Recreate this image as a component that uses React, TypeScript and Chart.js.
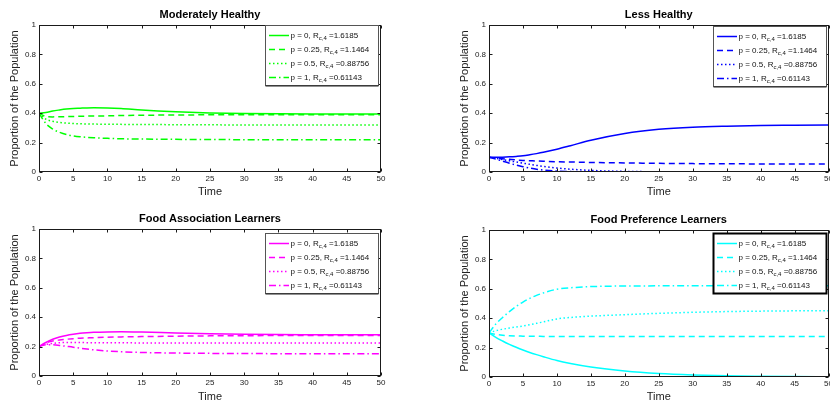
import React, { useEffect, useRef } from "react";
import { Chart, registerables } from "chart.js";
Chart.register(...registerables);

// ---- data ----
const timePoints = [0, 1, 2, 3, 4, 5, 6, 7, 8, 10, 12, 15, 20, 25, 30, 35, 40, 45, 50];
const xTickValues = [0, 5, 10, 15, 20, 25, 30, 35, 40, 45, 50];
const yTickValues = [0, 0.2, 0.4, 0.6, 0.8, 1];
const yTickLabels = ["0", "0.2", "0.4", "0.6", "0.8", "1"];
const pLabels = ["0", "0.25", "0.5", "1"];
const rLabels = ["1.6185", "1.1464", "0.88756", "0.61143"];
const panelTitles = ["Moderately Healthy", "Less Healthy", "Food Association Learners", "Food Preference Learners"];
const xAxisTitle = "Time";
const yAxisTitle = "Proportion of the Population";

// Moderately Healthy
const mhP0 = [0.40, 0.405, 0.415, 0.422, 0.428, 0.432, 0.434, 0.436, 0.437, 0.436, 0.432, 0.422, 0.41, 0.402, 0.398, 0.396, 0.395, 0.395, 0.395];
const mhP025 = [0.40, 0.378, 0.375, 0.376, 0.377, 0.378, 0.379, 0.380, 0.381, 0.382, 0.384, 0.386, 0.388, 0.389, 0.39, 0.39, 0.39, 0.39, 0.39];
const mhP05 = [0.40, 0.36, 0.345, 0.337, 0.333, 0.33, 0.328, 0.327, 0.326, 0.325, 0.324, 0.323, 0.322, 0.321, 0.32, 0.32, 0.32, 0.32, 0.32];
const mhP1 = [0.40, 0.33, 0.292, 0.27, 0.255, 0.246, 0.24, 0.236, 0.233, 0.229, 0.226, 0.224, 0.222, 0.221, 0.22, 0.22, 0.22, 0.22, 0.22];

// Less Healthy
const lhP0 = [0.10, 0.10, 0.101, 0.103, 0.106, 0.11, 0.117, 0.125, 0.134, 0.155, 0.179, 0.216, 0.262, 0.29, 0.305, 0.312, 0.316, 0.318, 0.32];
const lhP025 = [0.10, 0.095, 0.09, 0.086, 0.082, 0.079, 0.077, 0.075, 0.073, 0.07, 0.068, 0.065, 0.062, 0.059, 0.057, 0.056, 0.055, 0.055, 0.055];
const lhP05 = [0.10, 0.093, 0.085, 0.076, 0.068, 0.06, 0.052, 0.045, 0.038, 0.027, 0.019, 0.011, 0.004, 0.002, 0.001, 0, 0, 0, 0];
const lhP1 = [0.10, 0.088, 0.074, 0.06, 0.047, 0.036, 0.027, 0.019, 0.013, 0.006, 0.003, 0.001, 0, 0, 0, 0, 0, 0, 0];

// Food Association Learners
const faP0 = [0.20, 0.228, 0.25, 0.265, 0.276, 0.284, 0.29, 0.294, 0.297, 0.30, 0.301, 0.299, 0.293, 0.288, 0.284, 0.282, 0.281, 0.28, 0.28];
const faP025 = [0.20, 0.225, 0.238, 0.245, 0.25, 0.254, 0.257, 0.259, 0.261, 0.264, 0.266, 0.268, 0.271, 0.273, 0.274, 0.275, 0.275, 0.275, 0.275];
const faP05 = [0.20, 0.215, 0.222, 0.226, 0.228, 0.228, 0.228, 0.227, 0.227, 0.226, 0.226, 0.225, 0.225, 0.225, 0.225, 0.225, 0.225, 0.225, 0.225];
const faP1 = [0.20, 0.212, 0.212, 0.208, 0.202, 0.196, 0.189, 0.183, 0.178, 0.17, 0.165, 0.16, 0.156, 0.154, 0.153, 0.152, 0.152, 0.152, 0.152];

// Food Preference Learners
const fpP0 = [0.30, 0.27, 0.245, 0.222, 0.202, 0.184, 0.167, 0.152, 0.138, 0.112, 0.092, 0.068, 0.041, 0.024, 0.014, 0.008, 0.005, 0.003, 0.002];
const fpP025 = [0.30, 0.29, 0.284, 0.281, 0.279, 0.278, 0.277, 0.277, 0.276, 0.276, 0.276, 0.275, 0.275, 0.275, 0.275, 0.275, 0.275, 0.275, 0.275];
const fpP05 = [0.30, 0.315, 0.325, 0.333, 0.34, 0.347, 0.356, 0.365, 0.375, 0.395, 0.405, 0.414, 0.424, 0.433, 0.44, 0.445, 0.448, 0.45, 0.451];
const fpP1 = [0.30, 0.36, 0.405, 0.445, 0.48, 0.51, 0.535, 0.555, 0.572, 0.597, 0.607, 0.615, 0.619, 0.62, 0.621, 0.621, 0.621, 0.621, 0.621];

const dashPatterns: number[][] = [[], [6, 4], [1.5, 2.5], [7, 3, 1.5, 3]];
const FONT = "'Liberation Sans', Arial, Helvetica, sans-serif";

type Panel = {
  title: string;
  color: string;
  series: number[][];
  left: number;
  top: number;
  width: number;
  height: number;
  padding: { top: number; right: number; bottom: number; left: number };
  xAxisHeight: number;
  legendTopOffset: number;
  legendBold: boolean;
};

const panels: Panel[] = [
  { title: panelTitles[0], color: "#00FF00", series: [mhP0, mhP025, mhP05, mhP1], left: 0, top: 0, width: 415, height: 200,
    padding: { top: 25, right: 34, bottom: 0, left: 8 }, xAxisHeight: 28, legendTopOffset: 0, legendBold: false },
  { title: panelTitles[1], color: "#0000FF", series: [lhP0, lhP025, lhP05, lhP1], left: 415, top: 0, width: 420, height: 200,
    padding: { top: 25, right: 4, bottom: 0, left: 43 }, xAxisHeight: 28, legendTopOffset: 1, legendBold: false },
  { title: panelTitles[2], color: "#FF00FF", series: [faP0, faP025, faP05, faP1], left: 0, top: 200, width: 415, height: 205,
    padding: { top: 29, right: 34, bottom: 0, left: 8 }, xAxisHeight: 29, legendTopOffset: 4, legendBold: false },
  { title: panelTitles[3], color: "#00FFFF", series: [fpP0, fpP025, fpP05, fpP1], left: 415, top: 200, width: 420, height: 205,
    padding: { top: 30, right: 4, bottom: 0, left: 43 }, xAxisHeight: 28, legendTopOffset: 3, legendBold: true },
];

function makeDecorPlugin(panel: Panel) {
  return {
    id: "matlabDecor",
    afterDraw(chart: any) {
      const ctx: CanvasRenderingContext2D = chart.ctx;
      const a = chart.chartArea;
      const xs = chart.scales.x;
      const ys = chart.scales.y;
      const L = Math.round(a.left) + 0.5;
      const R = Math.round(a.right) - 0.5;
      const T = Math.round(a.top) + 0.5;
      const B = Math.round(a.bottom) - 0.5;
      ctx.save();
      // frame
      ctx.strokeStyle = "#1a1a1a";
      ctx.lineWidth = 1;
      ctx.setLineDash([]);
      ctx.strokeRect(L, T, R - L, B - T);
      // inward ticks
      ctx.beginPath();
      for (const v of xTickValues) {
        const x = Math.round(xs.getPixelForValue(v)) + 0.5;
        ctx.moveTo(x, B); ctx.lineTo(x, B - 3);
        ctx.moveTo(x, T); ctx.lineTo(x, T + 3);
      }
      for (const v of yTickValues) {
        const y = Math.round(ys.getPixelForValue(v)) + 0.5;
        ctx.moveTo(L, y); ctx.lineTo(L + 3, y);
        ctx.moveTo(R, y); ctx.lineTo(R - 3, y);
      }
      ctx.stroke();
      // title
      ctx.fillStyle = "#000";
      ctx.font = `bold 11px ${FONT}`;
      ctx.textAlign = "center";
      ctx.textBaseline = "middle";
      ctx.fillText(panel.title, (a.left + a.right) / 2, a.top - 10.5);
      // legend
      const bw = 113, bh = 60;
      const bx = Math.round(a.right) - 3 - bw + 0.5;
      const by = Math.round(a.top) + panel.legendTopOffset + 0.5;
      ctx.fillStyle = "#fff";
      ctx.fillRect(bx, by, bw, bh);
      if (panel.legendBold) {
        ctx.strokeStyle = "#000";
        ctx.lineWidth = 2;
        ctx.strokeRect(bx, by, bw, bh);
      } else {
        ctx.strokeStyle = "#555";
        ctx.lineWidth = 1;
        ctx.strokeRect(bx, by, bw, bh);
        ctx.strokeStyle = "#222";
        ctx.beginPath();
        ctx.moveTo(bx, by + bh + 0.5); ctx.lineTo(bx + bw, by + bh + 0.5);
        ctx.stroke();
      }
      for (let i = 0; i < 4; i++) {
        const ry = Math.round(by + 9 + i * 14.3) + 0.5;
        ctx.strokeStyle = panel.color;
        ctx.lineWidth = 1.5;
        ctx.setLineDash(dashPatterns[i]);
        ctx.beginPath();
        ctx.moveTo(bx + 3.5, ry);
        ctx.lineTo(bx + 23.5, ry);
        ctx.stroke();
        ctx.setLineDash([]);
        ctx.fillStyle = "#111";
        ctx.textAlign = "left";
        ctx.textBaseline = "middle";
        let tx = bx + 25;
        ctx.font = `8px ${FONT}`;
        const s1 = `p = ${pLabels[i]}, R`;
        ctx.fillText(s1, tx, ry);
        tx += ctx.measureText(s1).width;
        ctx.font = `6px ${FONT}`;
        const s2 = "c,4";
        ctx.fillText(s2, tx, ry + 3);
        tx += ctx.measureText(s2).width;
        ctx.font = `8px ${FONT}`;
        ctx.fillText(` =${rLabels[i]}`, tx, ry);
      }
      ctx.restore();
    },
  };
}

function PanelChart({ panel }: { panel: Panel }) {
  const ref = useRef<HTMLCanvasElement | null>(null);
  useEffect(() => {
    if (!ref.current) return;
    const datasets = panel.series.map((arr, i) => ({
      label: `p = ${pLabels[i]}`,
      data: timePoints.map((t, j) => ({ x: t, y: arr[j] })),
      borderColor: panel.color,
      backgroundColor: panel.color,
      borderWidth: 1.5,
      borderDash: dashPatterns[i],
      pointRadius: 0,
      cubicInterpolationMode: "monotone" as const,
      fill: false,
    }));
    const chart = new Chart(ref.current, {
      type: "line",
      data: { datasets },
      options: {
        animation: false,
        responsive: false,
        devicePixelRatio: 1,
        layout: { padding: panel.padding },
        plugins: { legend: { display: false }, tooltip: { enabled: false }, title: { display: false } },
        scales: {
          x: {
            type: "linear",
            min: 0,
            max: 50,
            afterBuildTicks: (s: any) => { s.ticks = xTickValues.map((v) => ({ value: v })); },
            afterFit: (s: any) => { s.height = panel.xAxisHeight; },
            grid: { display: false, drawTicks: false },
            border: { display: false },
            ticks: { padding: 2, color: "#222", font: { size: 8, family: FONT }, maxRotation: 0, autoSkip: false,
              callback: (v: any) => String(v) },
            title: { display: true, text: xAxisTitle, color: "#222", font: { size: 11, family: FONT }, padding: { top: 0, bottom: 1.4 } },
          },
          y: {
            type: "linear",
            min: 0,
            max: 1,
            afterBuildTicks: (s: any) => { s.ticks = yTickValues.map((v) => ({ value: v })); },
            afterFit: (s: any) => { s.width = 31; },
            grid: { display: false, drawTicks: false },
            border: { display: false },
            ticks: { padding: 3, color: "#222", font: { size: 8, family: FONT }, autoSkip: false,
              callback: (v: any) => { const k = yTickValues.indexOf(v); return k >= 0 ? yTickLabels[k] : String(v); } },
            title: { display: true, text: yAxisTitle, color: "#222", font: { size: 11, family: FONT }, padding: { top: 0.4, bottom: 0 } },
          },
        },
      },
      plugins: [makeDecorPlugin(panel)],
    } as any);
    return () => chart.destroy();
  }, [panel]);
  return (
    <div style={{ position: "absolute", left: panel.left, top: panel.top, width: panel.width, height: panel.height }}>
      <canvas ref={ref} width={panel.width} height={panel.height} style={{ width: panel.width, height: panel.height, display: "block" }} />
    </div>
  );
}

export default function App() {
  return (
    <div style={{ position: "fixed", left: 0, top: 0, width: 830, height: 405, overflow: "hidden", background: "#fff" }}>
      {panels.map((p, i) => (
        <PanelChart key={i} panel={p} />
      ))}
    </div>
  );
}
